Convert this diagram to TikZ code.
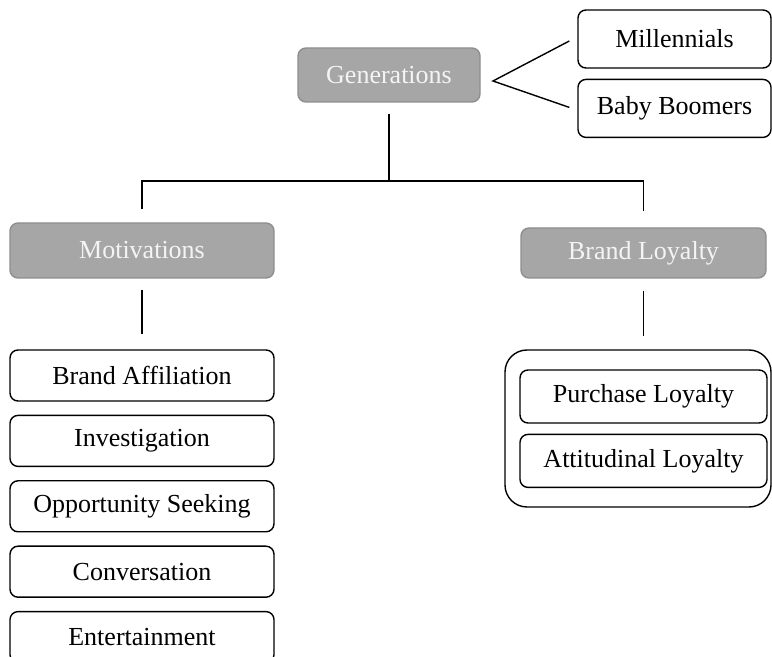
\documentclass[tikz,border=0pt]{standalone}
\usepackage{fontspec}
\setmainfont{Liberation Serif}
\usepackage{tikz}
\usetikzlibrary{positioning}
\definecolor{headgray}{HTML}{A6A6A6}
\definecolor{headedge}{HTML}{8E8E8E}
\definecolor{headtext}{HTML}{F4F4F4}

\begin{document}
\begin{tikzpicture}[x=0.5pt, y=-0.5pt, node distance=6.5pt, line width=0.7pt,
                    main node/.style={draw,rounded corners=4pt,inner sep=0pt,
                      minimum width=132pt,minimum height=25.5pt,
                      font=\fontsize{13}{15}\selectfont},
                    head node/.style={main node,fill=headgray,draw=headedge,text=headtext}]

  \useasboundingbox (0,0) rectangle (772,657);
  \clip (0,0) rectangle (772,657);

  \node[head node, minimum width=91pt, minimum height=27pt] (1) at (389,75) {Generations};
  \node[main node, minimum width=96.5pt, minimum height=29pt] (2) at (674.5,39) {Millennials};
  \node[main node, minimum width=96.5pt, minimum height=29pt] (3) [below=5pt of 2] {Baby Boomers};
  \node[head node, minimum height=27.5pt] (4) at (142,250.5) {Motivations};
  \node[head node, minimum width=122.5pt, minimum height=25pt] (5) at (643.5,253) {Brand Loyalty};

  \node[main node] (6) at (142,375.5) {Brand Affiliation};
  \node[main node] (7) [below=of 6] {Investigation};
  \node[main node] (8) [below=of 7] {Opportunity Seeking};
  \node[main node] (9) [below=of 8] {Conversation};
  \node[main node] (10) [below=of 9] {Entertainment};

  \node[main node, rounded corners=11pt, minimum width=133pt, minimum height=78.5pt] (11) at (638,428.5) {};
  \node[main node, minimum width=123.5pt, minimum height=26.5pt] (12) at (643.5,396.5) {Purchase Loyalty};
  \node[main node, minimum width=123.5pt, minimum height=26.5pt] (13) [below=5pt of 12] {Attitudinal Loyalty};

  % fork to the two generations
  \coordinate (fork) at (493,81);
  \draw ([shift={(-8,2)}]2.west) -- (fork) -- ([shift={(-8,-1)}]3.west);

  % tree
  \coordinate (join) at (389,181);
  \coordinate (loyal) at ([yshift=6.5pt]11.north);
  \draw ([yshift=-5.5pt]1.south) -- (join);
  \draw ([yshift=6.5pt]4.north) |- (join) -| ([yshift=8pt]5.north);
  \draw ([yshift=-5.5pt]4.south) -- ([yshift=7.5pt]6.north);
  \draw ([yshift=-6pt]5.south) -- (5.south |- loyal);
\end{tikzpicture}
\end{document}
